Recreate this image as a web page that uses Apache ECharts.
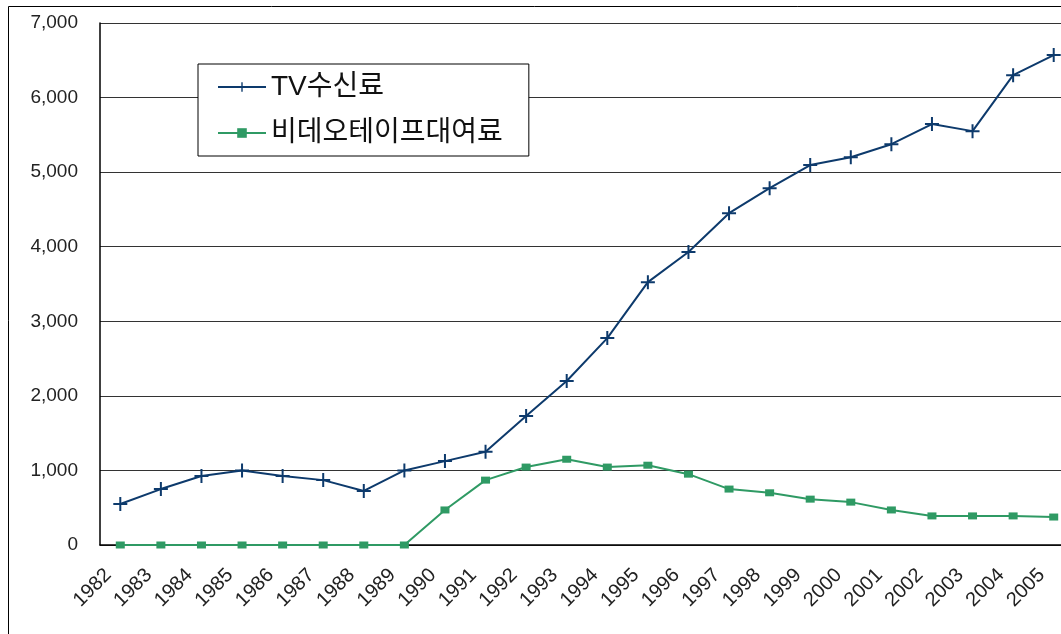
<!DOCTYPE html>
<html>
<head>
<meta charset="utf-8">
<script src="https://cdn.jsdelivr.net/npm/echarts@6/dist/echarts.min.js"></script>
<style>
html,body{margin:0;padding:0;background:#fff;}
#chart{width:1061px;height:634px;}
</style>
</head>
<body>
<div id="chart"></div>
<script>
const years = ['1982','1983','1984','1985','1986','1987','1988','1989','1990','1991','1992','1993','1994','1995','1996','1997','1998','1999','2000','2001','2002','2003','2004','2005'];
const tvFee = [550,750,925,1000,925,870,725,1000,1125,1250,1730,2200,2775,3525,3930,4450,4785,5095,5200,5375,5645,5550,6300,6570];
const videoRental = [0,0,0,0,0,0,0,0,470,870,1045,1150,1045,1070,950,750,700,615,575,470,390,390,390,375];
const seriesNames = ['TV수신료','비데오테이프대여료'];

const FONT = '"Liberation Sans", "Noto Sans CJK KR", sans-serif';
const chart = echarts.init(document.getElementById('chart'), null, {renderer:'canvas'});
chart.setOption({
  animation:false,
  backgroundColor:'#fff',
  textStyle:{fontFamily:FONT},
  graphic:[
    {type:'polyline', shape:{points:[[8.5,634],[8.5,6.5],[1061,6.5]]}, style:{stroke:'#000', lineWidth:1, fill:null}, z:100}
  ],
  grid:{left:100, top:23, height:522, width:974, containLabel:false, outerBoundsMode:'none'},
  legend:{
    left:198, top:64, orient:'vertical',
    backgroundColor:'#fff', borderColor:'#000', borderWidth:1,
    padding:[9,26,9,19],
    itemWidth:48, itemHeight:12, itemGap:18,
    textStyle:{fontSize:28, color:'#111', fontFamily:FONT},
    data:seriesNames
  },
  xAxis:{
    type:'category', data:years, boundaryGap:true,
    axisLine:{lineStyle:{color:'#000', width:1.5}},
    axisTick:{inside:true, length:6, lineStyle:{color:'#000'}},
    axisLabel:{rotate:45, interval:0, fontSize:20, color:'#222', margin:15, padding:[0,17,0,0], fontFamily:FONT},
    splitLine:{show:false}
  },
  yAxis:{
    type:'value', min:0, max:7000, interval:1000,
    axisLine:{show:true, lineStyle:{color:'#000', width:1.5}},
    axisTick:{show:false},
    axisLabel:{fontSize:19, color:'#222', margin:22, fontFamily:FONT,
      formatter:v=>v.toLocaleString('en-US')},
    splitLine:{lineStyle:{color:'#333', width:1}}
  },
  series:[
    {name:seriesNames[0], type:'line', data:tvFee,
     symbol:'path://M6,0H8V6H14V8H8V14H6V8H0V6H6Z', symbolSize:14,
     lineStyle:{color:'#0d3a6c', width:2}, itemStyle:{color:'#0d3a6c'}},
    {name:seriesNames[1], type:'line', data:videoRental,
     symbol:'rect', symbolSize:[9,7],
     lineStyle:{color:'#2f9a64', width:2}, itemStyle:{color:'#2f9a64'}}
  ]
});
</script>
</body>
</html>
